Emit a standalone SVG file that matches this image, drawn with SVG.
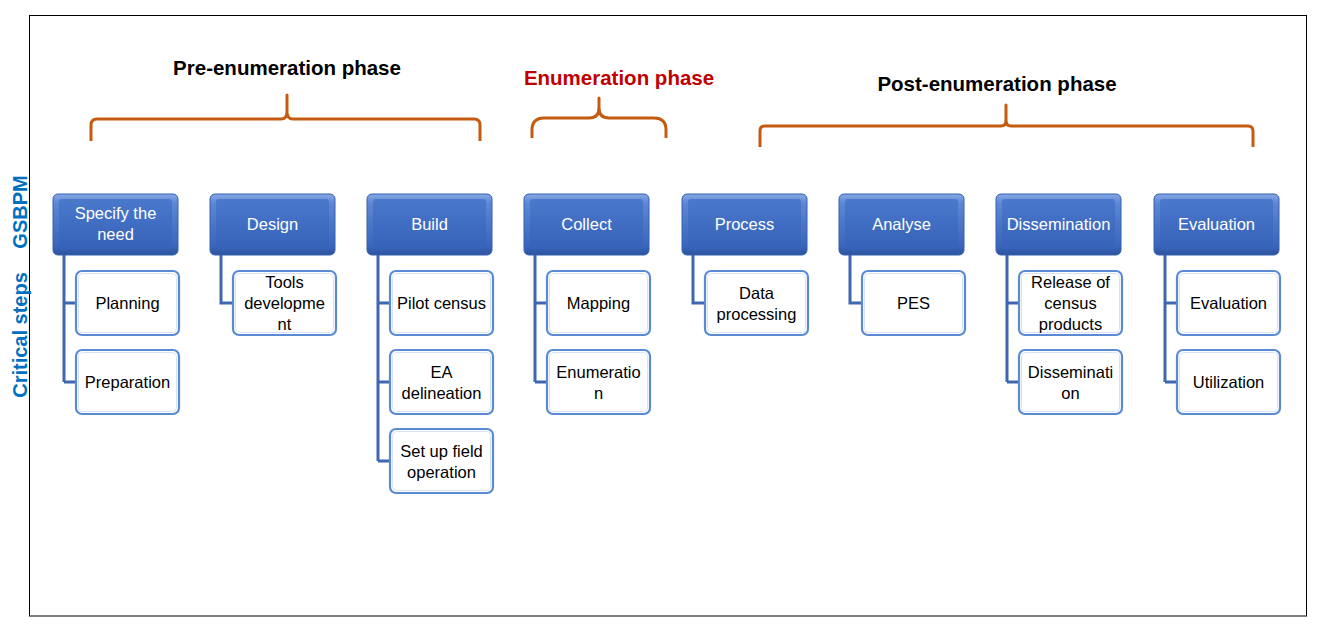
<svg xmlns="http://www.w3.org/2000/svg" width="1321" height="629" viewBox="0 0 1321 629">
<defs>
<linearGradient id="bevel" x1="0" y1="0" x2="0" y2="1">
<stop offset="0" stop-color="#86A8E6"/>
<stop offset="0.15" stop-color="#5C87D4"/>
<stop offset="0.85" stop-color="#3A66BC"/>
<stop offset="1" stop-color="#2B539E"/>
</linearGradient>
<linearGradient id="body" x1="0" y1="0" x2="0" y2="1">
<stop offset="0" stop-color="#4A78CB"/>
<stop offset="1" stop-color="#3663B9"/>
</linearGradient>
<style>
.frame{fill:#fff;stroke:#000;stroke-width:1}
.brace{fill:none;stroke:#C55A11;stroke-width:3;stroke-linejoin:round;stroke-linecap:butt}
.title{font-family:"Liberation Sans",Arial,sans-serif;font-weight:bold;font-size:20.5px;text-anchor:middle;fill:#000}
.side{font-family:"Liberation Sans",Arial,sans-serif;font-weight:bold;font-size:20px;text-anchor:middle;fill:#0070C0}
.pout{fill:url(#bevel);stroke:#3560B0;stroke-width:1}
.pin{fill:url(#body)}
.ptxt{font-family:"Liberation Sans",Arial,sans-serif;font-size:16.5px;text-anchor:middle;fill:#fff}
.cbox{fill:#fff;stroke:#5B8AD5;stroke-width:2.2}
.cin{fill:none;stroke:#D6E3F7;stroke-width:1}
.ctxt{font-family:"Liberation Sans",Arial,sans-serif;font-size:16.5px;text-anchor:middle;fill:#000}
.conn{fill:none;stroke:#3F66B0;stroke-width:3}
</style>
</defs>
<rect class="frame" x="29.5" y="15.5" width="1277" height="600.5"/>

<g id="phases">
<text class="title" x="287" y="75">Pre-enumeration phase</text>
<text class="title" x="619" y="85" style="fill:#C00000">Enumeration phase</text>
<text class="title" x="997" y="91">Post-enumeration phase</text>
<path class="brace" d="M91,141 V125 Q91,119 97,119 H281 Q287,119 287,112 V95 V112 Q287,119 293,119 H474 Q480,119 480,125 V141"/>
<path class="brace" d="M532,138 V130 Q532,118 544,118 H589 Q599,118 599,108 V98 V108 Q599,118 609,118 H654 Q666,118 666,130 V138"/>
<path class="brace" d="M760,147 V131 Q760,126 765,126 H1001 Q1006,126 1006,120 V105 V120 Q1006,126 1011,126 H1248 Q1253,126 1253,131 V147"/>
</g>

<g id="side-labels">
<text class="side" transform="translate(27,212) rotate(-90)">GSBPM</text>
<text class="side" transform="translate(27,335) rotate(-90)">Critical steps</text>
</g>

<g id="connectors">
<path class="conn" d="M64,255 V382 M64,303 H76 M64,382 H76"/>
<path class="conn" d="M221,255 V303 H233"/>
<path class="conn" d="M378,255 V461 M378,303 H390 M378,382 H390 M378,461 H390"/>
<path class="conn" d="M535,255 V382 M535,303 H547 M535,382 H547"/>
<path class="conn" d="M693,255 V303 H705"/>
<path class="conn" d="M850,255 V303 H862"/>
<path class="conn" d="M1007,255 V382 M1007,303 H1019 M1007,382 H1019"/>
<path class="conn" d="M1165,255 V382 M1165,303 H1177 M1165,382 H1177"/>
</g>

<g id="p-specify"><rect class="pout" x="53" y="194" width="125" height="61" rx="5"/><rect class="pin" x="59" y="199" width="113" height="50" rx="3"/><text class="ptxt" x="115.5" y="219">Specify the</text><text class="ptxt" x="115.5" y="240">need</text></g>
<g id="p-design"><rect class="pout" x="210" y="194" width="125" height="61" rx="5"/><rect class="pin" x="216" y="199" width="113" height="50" rx="3"/><text class="ptxt" x="272.5" y="230">Design</text></g>
<g id="p-build"><rect class="pout" x="367" y="194" width="125" height="61" rx="5"/><rect class="pin" x="373" y="199" width="113" height="50" rx="3"/><text class="ptxt" x="429.5" y="230">Build</text></g>
<g id="p-collect"><rect class="pout" x="524" y="194" width="125" height="61" rx="5"/><rect class="pin" x="530" y="199" width="113" height="50" rx="3"/><text class="ptxt" x="586.5" y="230">Collect</text></g>
<g id="p-process"><rect class="pout" x="682" y="194" width="125" height="61" rx="5"/><rect class="pin" x="688" y="199" width="113" height="50" rx="3"/><text class="ptxt" x="744.5" y="230">Process</text></g>
<g id="p-analyse"><rect class="pout" x="839" y="194" width="125" height="61" rx="5"/><rect class="pin" x="845" y="199" width="113" height="50" rx="3"/><text class="ptxt" x="901.5" y="230">Analyse</text></g>
<g id="p-dissemination"><rect class="pout" x="996" y="194" width="125" height="61" rx="5"/><rect class="pin" x="1002" y="199" width="113" height="50" rx="3"/><text class="ptxt" x="1058.5" y="230">Dissemination</text></g>
<g id="p-evaluation"><rect class="pout" x="1154" y="194" width="125" height="61" rx="5"/><rect class="pin" x="1160" y="199" width="113" height="50" rx="3"/><text class="ptxt" x="1216.5" y="230">Evaluation</text></g>

<g id="c-planning"><rect class="cbox" x="76" y="271" width="103" height="64" rx="6"/><rect class="cin" x="78.5" y="273.5" width="98" height="59" rx="4"/><text class="ctxt" x="127.5" y="309">Planning</text></g>
<g id="c-preparation"><rect class="cbox" x="76" y="350" width="103" height="64" rx="6"/><rect class="cin" x="78.5" y="352.5" width="98" height="59" rx="4"/><text class="ctxt" x="127.5" y="388">Preparation</text></g>
<g id="c-tools"><rect class="cbox" x="233" y="271" width="103" height="64" rx="6"/><rect class="cin" x="235.5" y="273.5" width="98" height="59" rx="4"/><text class="ctxt" x="284.5" y="288">Tools</text><text class="ctxt" x="284.5" y="309">developme</text><text class="ctxt" x="284.5" y="330">nt</text></g>
<g id="c-pilot"><rect class="cbox" x="390" y="271" width="103" height="64" rx="6"/><rect class="cin" x="392.5" y="273.5" width="98" height="59" rx="4"/><text class="ctxt" x="441.5" y="309">Pilot census</text></g>
<g id="c-ea"><rect class="cbox" x="390" y="350" width="103" height="64" rx="6"/><rect class="cin" x="392.5" y="352.5" width="98" height="59" rx="4"/><text class="ctxt" x="441.5" y="377.5">EA</text><text class="ctxt" x="441.5" y="398.5">delineation</text></g>
<g id="c-setup"><rect class="cbox" x="390" y="429" width="103" height="64" rx="6"/><rect class="cin" x="392.5" y="431.5" width="98" height="59" rx="4"/><text class="ctxt" x="441.5" y="456.5">Set up field</text><text class="ctxt" x="441.5" y="477.5">operation</text></g>
<g id="c-mapping"><rect class="cbox" x="547" y="271" width="103" height="64" rx="6"/><rect class="cin" x="549.5" y="273.5" width="98" height="59" rx="4"/><text class="ctxt" x="598.5" y="309">Mapping</text></g>
<g id="c-enumeration"><rect class="cbox" x="547" y="350" width="103" height="64" rx="6"/><rect class="cin" x="549.5" y="352.5" width="98" height="59" rx="4"/><text class="ctxt" x="598.5" y="377.5">Enumeratio</text><text class="ctxt" x="598.5" y="398.5">n</text></g>
<g id="c-dataproc"><rect class="cbox" x="705" y="271" width="103" height="64" rx="6"/><rect class="cin" x="707.5" y="273.5" width="98" height="59" rx="4"/><text class="ctxt" x="756.5" y="298.5">Data</text><text class="ctxt" x="756.5" y="319.5">processing</text></g>
<g id="c-pes"><rect class="cbox" x="862" y="271" width="103" height="64" rx="6"/><rect class="cin" x="864.5" y="273.5" width="98" height="59" rx="4"/><text class="ctxt" x="913.5" y="309">PES</text></g>
<g id="c-release"><rect class="cbox" x="1019" y="271" width="103" height="64" rx="6"/><rect class="cin" x="1021.5" y="273.5" width="98" height="59" rx="4"/><text class="ctxt" x="1070.5" y="288">Release of</text><text class="ctxt" x="1070.5" y="309">census</text><text class="ctxt" x="1070.5" y="330">products</text></g>
<g id="c-dissem"><rect class="cbox" x="1019" y="350" width="103" height="64" rx="6"/><rect class="cin" x="1021.5" y="352.5" width="98" height="59" rx="4"/><text class="ctxt" x="1070.5" y="377.5">Disseminati</text><text class="ctxt" x="1070.5" y="398.5">on</text></g>
<g id="c-evaluation"><rect class="cbox" x="1177" y="271" width="103" height="64" rx="6"/><rect class="cin" x="1179.5" y="273.5" width="98" height="59" rx="4"/><text class="ctxt" x="1228.5" y="309">Evaluation</text></g>
<g id="c-utilization"><rect class="cbox" x="1177" y="350" width="103" height="64" rx="6"/><rect class="cin" x="1179.5" y="352.5" width="98" height="59" rx="4"/><text class="ctxt" x="1228.5" y="388">Utilization</text></g>
</svg>
